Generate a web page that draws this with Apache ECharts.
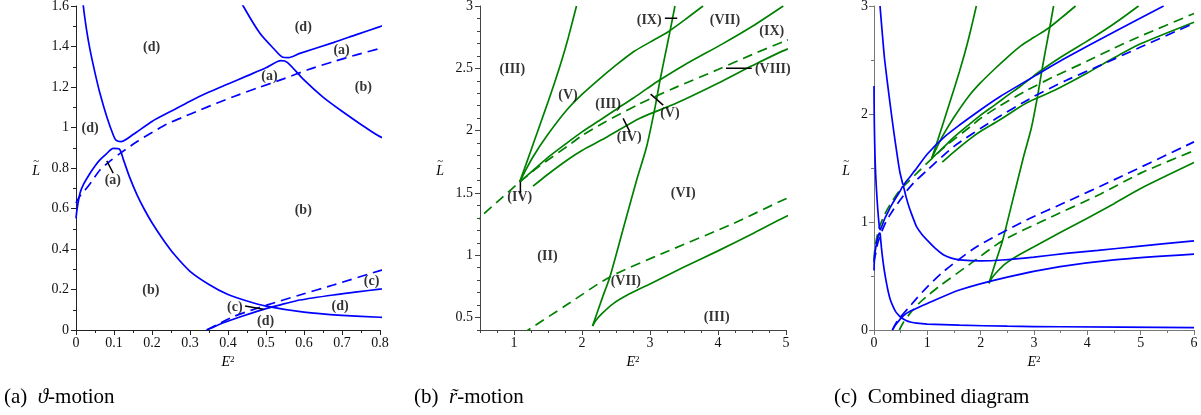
<!DOCTYPE html>
<html><head><meta charset="utf-8">
<script src="https://cdn.jsdelivr.net/npm/echarts@6/dist/echarts.min.js"></script>
<style>html,body{margin:0;padding:0;background:#fff}#c{width:1201px;height:415px}</style>
</head><body><div id="c"></div>
<script>
// ---------- blue curves (theta-motion), [E^2, L] ----------
const thetaSolid1 = [[0,2.26],[0.004,2.0],[0.01,1.8],[0.019,1.605],[0.028,1.48],[0.037,1.383],[0.05,1.27],[0.063,1.169],[0.081,1.053],[0.098,0.963],[0.105,0.938],[0.118,0.93],[0.15,0.965],[0.2,1.03],[0.25,1.08],[0.3,1.13],[0.35,1.175],[0.4,1.215],[0.45,1.255],[0.5,1.295],[0.539,1.33],[0.556,1.322],[0.6,1.235],[0.65,1.15],[0.7,1.08],[0.75,1.015],[0.8,0.955],[0.9,0.885],[1.0,0.83],[1.15,0.755],[1.3,0.697],[1.45,0.665],[1.6,0.65],[2.0,0.64],[2.4,0.648],[3.0,0.675],[3.6,0.709],[4.2,0.737],[4.9,0.772],[6.0,0.826]];
const thetaSolid2 = [[0.113,3.0],[0.16,2.72],[0.2,2.5],[0.3,2.1],[0.37,1.84],[0.44,1.6],[0.484,1.465],[0.52,1.39],[0.544,1.347],[0.559,1.345],[0.589,1.366],[0.677,1.419],[0.74,1.46],[0.8,1.498],[1.0,1.63],[1.3,1.78],[1.61,1.9],[2.0,2.04],[2.36,2.16],[3.11,2.38],[3.6,2.52],[4.5,2.76],[5.43,3.0]];
const thetaSolid3 = [[0,0.551],[0.003,0.6],[0.0105,0.675],[0.02,0.72],[0.037,0.774],[0.05,0.81],[0.063,0.84],[0.08,0.87],[0.098,0.897],[0.114,0.894],[0.125,0.84],[0.14,0.76],[0.16,0.67],[0.18,0.595],[0.2,0.53],[0.23,0.445],[0.26,0.37],[0.3,0.29],[0.35,0.225],[0.4,0.175],[0.45,0.143],[0.5,0.118],[0.6,0.088],[0.7,0.072],[0.8,0.063],[1.0,0.055],[1.6,0.045],[2.5,0.035],[3.5,0.03],[6.0,0.022]];
const thetaSolid4 = [[0.344,0],[0.36,0.013],[0.38,0.03],[0.414,0.053],[0.46,0.082],[0.502,0.107],[0.55,0.13],[0.589,0.148],[0.677,0.173],[0.74,0.188],[0.8,0.202],[1.0,0.245],[1.6,0.37],[2.5,0.49],[3.49,0.586],[4.5,0.65],[6.0,0.703]];
const thetaDash1 = [[0,0.626],[0.01,0.66],[0.024,0.691],[0.04,0.73],[0.063,0.79],[0.09,0.835],[0.116,0.872],[0.16,0.93],[0.2,0.975],[0.239,1.017],[0.28,1.05],[0.326,1.086],[0.37,1.12],[0.414,1.152],[0.48,1.197],[0.546,1.24],[0.61,1.285],[0.677,1.325],[0.74,1.36],[0.8,1.39],[1.0,1.48],[1.5,1.7],[2.24,1.943],[2.99,2.16],[3.6,2.31],[4.24,2.45],[5.0,2.62],[6.0,2.84]];
const thetaDash2 = [[0.344,0],[0.37,0.025],[0.414,0.066],[0.46,0.097],[0.502,0.123],[0.589,0.173],[0.677,0.222],[0.8,0.293],[1.0,0.4],[1.3,0.54],[1.925,0.771],[2.86,1.018],[3.61,1.187],[4.5,1.39],[6.0,1.742]];

// ---------- green curves (r-motion) ----------
const rSolid1 = [[1.084,1.589],[1.2,1.765],[1.3,1.92],[1.4,2.075],[1.5,2.23],[1.6,2.39],[1.7,2.56],[1.8,2.75],[1.919,3.0]];
const rSolid2 = [[1.084,1.589],[1.15,1.66],[1.28,1.79],[1.5,1.97],[1.776,2.165],[2.0,2.29],[2.267,2.419],[2.5,2.525],[2.757,2.633],[3.0,2.71],[3.268,2.794],[3.5,2.885],[3.78,3.0]];
const rSolid3 = [[1.084,1.589],[1.3,1.69],[1.5,1.785],[1.776,1.9],[2.0,1.99],[2.267,2.085],[2.5,2.17],[2.757,2.262],[2.95,2.335],[3.125,2.4],[3.5,2.525],[4.08,2.7],[4.5,2.835],[4.96,3.0]];
const rSolid4 = [[1.28,1.554],[1.5,1.65],[1.8,1.77],[2.0,1.84],[2.34,1.94],[2.851,2.1],[3.367,2.215],[4.0,2.38],[4.5,2.52],[5.01,2.652],[6.0,2.85]];
const rSolid5 = [[2.155,0.432],[2.3,0.66],[2.41,0.826],[2.6,1.2],[2.803,1.602],[2.95,1.87],[3.072,2.18],[3.146,2.4],[3.22,2.6],[3.293,2.794],[3.367,3.0]];
const rSolid6 = [[2.155,0.432],[2.2,0.475],[2.3,0.535],[2.46,0.612],[2.7,0.69],[3.0,0.77],[3.5,0.905],[4.0,1.035],[4.5,1.17],[5.0,1.31],[6.0,1.55]];
const rDash1 = [[0,0.648],[0.01,0.72],[0.03,0.8],[0.1,0.95],[0.2,1.07],[0.3,1.16],[0.485,1.294],[0.8,1.45],[1.09,1.59],[1.36,1.709],[1.85,1.9],[2.0,1.96],[2.34,2.07],[2.83,2.21],[3.37,2.345],[4.0,2.49],[4.5,2.61],[4.96,2.713],[6.0,2.93]];
const rDash2 = [[0.475,0],[0.55,0.07],[0.675,0.154],[0.85,0.25],[1.0,0.315],[1.21,0.4],[1.77,0.6],[2.41,0.826],[3.234,1.026],[4.23,1.255],[5.01,1.455],[6.0,1.66]];

// ---------- region labels and pointer strokes ----------
const labelsA = [[0.199,1.396,'(d)'],[0.598,1.495,'(d)'],[0.699,1.383,'(a)'],[0.509,1.254,'(a)'],[0.756,1.199,'(b)'],[0.037,0.996,'(d)'],[0.097,0.741,'(a)'],[0.598,0.593,'(b)'],[0.197,0.194,'(b)'],[0.778,0.239,'(c)'],[0.418,0.112,'(c)'],[0.695,0.115,'(d)'],[0.499,0.043,'(d)']];
const labelsB = [[0.976,2.494,'(III)'],[1.795,2.285,'(V)'],[2.384,2.213,'(III)'],[2.694,1.945,'(IV)'],[3.293,2.138,'(V)'],[2.988,2.888,'(IX)'],[4.103,2.888,'(VII)'],[4.791,2.794,'(IX)'],[4.806,2.494,'(VIII)'],[1.084,1.463,'(IV)'],[3.489,1.5,'(VI)'],[1.492,0.992,'(II)'],[2.645,0.794,'(VII)'],[3.981,0.5,'(III)']];
const pointersA = [[[0.081,0.835],[0.098,0.774]],[[0.445,0.119],[0.493,0.102]]];
const pointersB = [[[3.219,2.901],[3.40,2.901]],[[4.118,2.5],[4.496,2.5]],[[3.009,2.293],[3.194,2.205]],[[2.605,2.098],[2.704,1.99]],[[1.094,1.589],[1.094,1.5]]];

// ---------- ticks ----------
const ticksBx = [1,2,3,4,5];
const ticksBy = [0.5,1,1.5,2,2.5,3];
const captions = ['(a)\u2002{i|\u03D1}-motion','(b)\u2002{i|r\u0303}-motion','(c)\u2002Combined diagram'];

const BLUE = '#0000ff', GREEN = '#008000';
const SERIF = '"Liberation Serif","DejaVu Serif",serif';
const blueCurves = [[thetaSolid1,false],[thetaSolid2,false],[thetaSolid3,false],[thetaSolid4,false],[thetaDash1,true],[thetaDash2,true]];
const greenCurves = [[rSolid1,false],[rSolid2,false],[rSolid3,false],[rSolid4,false],[rSolid5,false],[rSolid6,false],[rDash1,true],[rDash2,true]];

function curveSeries(list, color, p) {
  return list.map(([d, dashed]) => ({
    type: 'line', xAxisIndex: p, yAxisIndex: p, data: d, showSymbol: false, symbol: 'none',
    smooth: 0.25,
    clip: true, silent: true, z: color === BLUE ? 3 : 2,
    lineStyle: { color, width: 1.7, type: dashed ? [10, 6] : 'solid' }
  }));
}
function pointerSeries(list, p) {
  return list.map(seg => ({
    type: 'line', xAxisIndex: p, yAxisIndex: p, data: seg, showSymbol: false, symbol: 'none',
    silent: true, z: 4, lineStyle: { color: '#000', width: 1.5 }
  }));
}
function labelSeries(list, p) {
  return {
    type: 'scatter', xAxisIndex: p, yAxisIndex: p, silent: true, z: 5,
    symbolSize: 1, itemStyle: { color: 'rgba(0,0,0,0)' },
    data: list.map(r => ({ value: [r[0], r[1]], name: r[2] })),
    label: { show: true, position: 'inside', formatter: '{b}', color: '#000',
      fontFamily: SERIF, fontWeight: 'bold', fontSize: 14 }
  };
}

const e2Name = '{e|E}{s|2}';
const lName = '{t|~}\n{l|L}';
const nameRich = {
  e: { fontFamily: SERIF, fontStyle: 'italic', fontSize: 14, color: '#000' },
  s: { fontFamily: SERIF, fontSize: 9, color: '#000', verticalAlign: 'top', padding: [0,0,6,0] },
  t: { fontFamily: SERIF, fontSize: 11, color: '#000', lineHeight: 7, align: 'center' },
  l: { fontFamily: SERIF, fontStyle: 'italic', fontSize: 14, color: '#000', lineHeight: 14, align: 'center' }
};
const tickLabel = { fontFamily: SERIF, fontSize: 14, color: '#111' };

function xAx(p, min, max, interval, axisColor, extra) {
  return Object.assign({
    type: 'value', gridIndex: p, min, max, interval, position: 'bottom',
    name: e2Name, nameLocation: 'middle', nameGap: 20, nameTextStyle: { rich: nameRich },
    axisLine: { show: true, onZero: false, lineStyle: { color: axisColor, width: 1 } },
    axisTick: { show: true, length: 5, lineStyle: { color: axisColor } },
    minorTick: { show: true, splitNumber: 2, length: 3, lineStyle: { color: axisColor } },
    axisLabel: Object.assign({ margin: 6 }, tickLabel),
    splitLine: { show: false }, minorSplitLine: { show: false }
  }, extra || {});
}
function yAx(p, min, max, interval, axisColor, gap, extra) {
  return Object.assign({
    type: 'value', gridIndex: p, min, max, interval, position: 'left',
    name: lName, nameLocation: 'middle', nameGap: gap, nameRotate: 0, nameTextStyle: { rich: nameRich },
    axisLine: { show: true, onZero: false, lineStyle: { color: axisColor, width: 1 } },
    axisTick: { show: true, length: 5, lineStyle: { color: axisColor } },
    minorTick: { show: true, splitNumber: 2, length: 3, lineStyle: { color: axisColor } },
    axisLabel: Object.assign({ margin: 7 }, tickLabel),
    splitLine: { show: false }, minorSplitLine: { show: false }
  }, extra || {});
}

const option = {
  animation: false,
  backgroundColor: '#fff',
  grid: [
    { left: 76, top: 6, width: 304, height: 324, outerBoundsMode: 'none' },
    { left: 480, top: 6, width: 306, height: 324, outerBoundsMode: 'none' },
    { left: 874, top: 6, width: 320, height: 324, outerBoundsMode: 'none' }
  ],
  xAxis: [
    xAx(0, 0, 0.8, 0.1, '#222'),
    xAx(1, 0.5, 5, 0.25, '#444', {
      minorTick: { show: false },
      axisTick: { show: true, length: 5, customValues: ticksBx, lineStyle: { color: '#444' } },
      axisLabel: Object.assign({ margin: 6, customValues: ticksBx }, tickLabel)
    }),
    xAx(2, 0, 6, 1, '#777'),
    { type: 'value', gridIndex: 1, min: 0.5, max: 5, interval: 0.25, position: 'bottom',
      axisLine: { show: false }, axisLabel: { show: false }, splitLine: { show: false },
      axisTick: { show: true, length: 3, lineStyle: { color: '#444' } } }
  ],
  yAxis: [
    yAx(0, 0, 1.6, 0.2, '#222', 36),
    yAx(1, 0.4, 3, 0.1, '#444', 36, {
      minorTick: { show: false },
      axisTick: { show: true, length: 5, customValues: ticksBy, lineStyle: { color: '#444' } },
      axisLabel: Object.assign({ margin: 7, customValues: ticksBy }, tickLabel)
    }),
    yAx(2, 0, 3, 1, '#777', 24, { axisLabel: Object.assign({ margin: 6 }, tickLabel) }),
    { type: 'value', gridIndex: 1, min: 0.4, max: 3, interval: 0.1, position: 'left',
      axisLine: { show: false }, axisLabel: { show: false }, splitLine: { show: false },
      axisTick: { show: true, length: 3, lineStyle: { color: '#444' } } }
  ],
  title: captions.map((t, i) => ({
    text: t, left: [4, 414, 834][i], top: 387, padding: 0,
    textStyle: { fontFamily: SERIF, fontWeight: 'normal', fontSize: 21, color: '#000',
      rich: { i: { fontFamily: SERIF, fontStyle: 'italic', fontSize: 21, color: '#000' } } }
  })),
  series: [].concat(
    curveSeries(blueCurves, BLUE, 0),
    pointerSeries(pointersA, 0),
    [labelSeries(labelsA, 0)],
    curveSeries(greenCurves, GREEN, 1),
    pointerSeries(pointersB, 1),
    [labelSeries(labelsB, 1)],
    curveSeries(greenCurves, GREEN, 2),
    curveSeries(blueCurves, BLUE, 2)
  )
};
const chart = echarts.init(document.getElementById('c'), null, { renderer: 'canvas' });
chart.setOption(option);
</script>
</body></html>
